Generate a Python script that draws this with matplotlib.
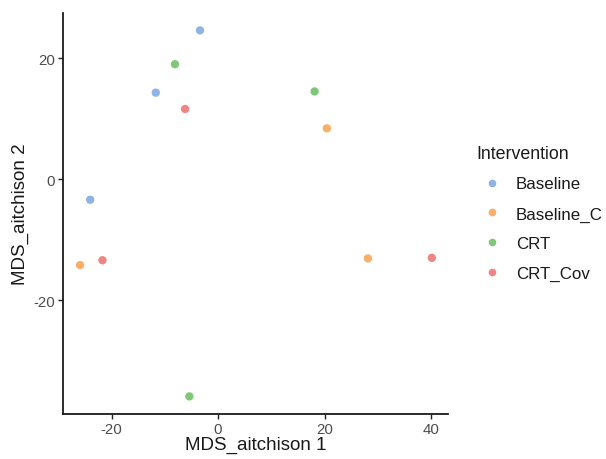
import matplotlib
matplotlib.use("Agg")
import matplotlib.pyplot as plt
from matplotlib.lines import Line2D

plt.rcParams['font.family'] = ['Liberation Sans', 'DejaVu Sans']
plt.rcParams['axes.unicode_minus'] = False

groups = ["Baseline", "Baseline_C", "CRT", "CRT_Cov"]
colors = ["#8FB3E3", "#FBAF66", "#80C77A", "#EF8585"]

baseline_x = [-3.4, -11.7, -24.0]
baseline_y = [24.6, 14.3, -3.4]
baseline_c_x = [20.4, -25.9, 28.1]
baseline_c_y = [8.4, -14.2, -13.1]
crt_x = [-8.1, 18.1, -5.4]
crt_y = [19.0, 14.5, -35.9]
crt_cov_x = [-6.2, -21.7, 40.1]
crt_cov_y = [11.6, -13.4, -13.0]

series_x = [baseline_x, baseline_c_x, crt_x, crt_cov_x]
series_y = [baseline_y, baseline_c_y, crt_y, crt_cov_y]

x_ticks = [-20, 0, 20, 40]
y_ticks = [-20, 0, 20]

fig = plt.figure(figsize=(6.06, 4.60), dpi=100)
ax = fig.add_axes([0.104, 0.098, 0.635, 0.872])

for xs, ys, c in zip(series_x, series_y, colors):
    ax.scatter(xs, ys, s=36, color=c, edgecolors='none', zorder=3)

ax.set_xlim(-29.1, 43.1)
ax.set_ylim(-38.8, 27.5)
ax.set_xticks(x_ticks)
ax.set_yticks(y_ticks)
ax.tick_params(axis='both', labelsize=10.8, colors='#222222', labelcolor='#4D4D4D',
               length=3.5, width=1.0, pad=2.5)
for side in ['top', 'right']:
    ax.spines[side].set_visible(False)
for side in ['left', 'bottom']:
    ax.spines[side].set_linewidth(1.3)
    ax.spines[side].set_color('#1a1a1a')

ax.set_xlabel("MDS_aitchison 1", fontsize=13.5, color='#1a1a1a', labelpad=0)
ax.set_ylabel("MDS_aitchison 2", fontsize=13.5, color='#1a1a1a', labelpad=3)

handles = [Line2D([0], [0], marker='o', linestyle='none', markersize=5.5,
                  markerfacecolor=c, markeredgecolor='none') for c in colors]
leg = fig.legend(handles, groups, title="Intervention", loc='upper left',
                 bbox_to_anchor=(0.772, 0.702), frameon=False,
                 fontsize=12.2, title_fontsize=12.8, labelspacing=0.88,
                 handletextpad=0.55, handlelength=1.8, borderpad=0)
leg._legend_box.align = "left"
for t in leg.get_texts():
    t.set_color('#1a1a1a')
leg.get_title().set_color('#1a1a1a')

fig.savefig("out.png", dpi=100)
